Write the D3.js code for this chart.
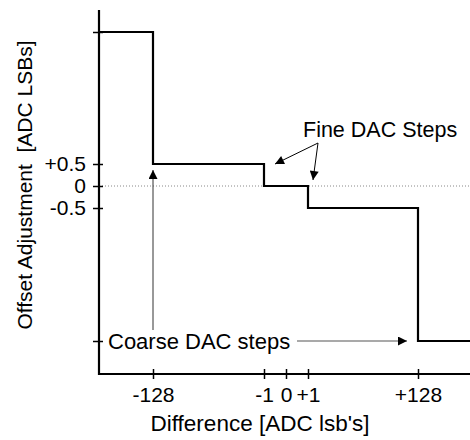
<!doctype html>
<html>
  <head>
    <meta charset="utf-8">
    <title>Offset Adjustment</title>
    <style>
      body { margin: 0; background: #fff; }
      text { font-family: "Liberation Sans", Arial, sans-serif; fill: #000; }
    </style>
    <script src="https://cdnjs.cloudflare.com/ajax/libs/d3/7.8.5/d3.min.js"></script>
  </head>
  <body>
    <div id="chart"></div>
    <script>
      // step breakpoints (ADC lsb difference) and the offset level that follows each one
      const stepX = [-192, -128, -1, 1, 128, 192];
      const stepY = [64, 0.5, 0, -0.5, -64, -64];

      const xTicks = [-128, -1, 0, 1, 128];
      const xTickLabels = ["-128", "-1", "0", "+1", "+128"];
      const yTicks = [-64, -0.5, 0, 0.5, 64];
      const yTickLabels = ["", "-0.5", "0", "+0.5", ""];

      const W = 470, H = 440;

      // the axes are not to scale, so use piecewise scales
      const x = d3.scaleLinear()
        .domain([-192, -128, -1, 0, 1, 128, 192])
        .range([99, 153, 264, 286, 308, 418, 470]);
      const y = d3.scaleLinear()
        .domain([-76, -64, -0.5, 0, 0.5, 64, 74])
        .range([374, 341, 208, 186, 164, 32, 10]);

      const svg = d3.select("#chart").append("svg")
        .attr("width", W).attr("height", H);

      const defs = svg.append("defs");
      defs.append("marker")
        .attr("id", "head")
        .attr("viewBox", "0 0 10 10")
        .attr("refX", 10).attr("refY", 5)
        .attr("markerWidth", 10).attr("markerHeight", 9)
        .attr("markerUnits", "userSpaceOnUse")
        .attr("orient", "auto")
        .append("path").attr("d", "M0,0L10,5L0,10Z").attr("fill", "#000");

      // zero reference
      svg.append("line")
        .attr("x1", x(-192)).attr("x2", x(192))
        .attr("y1", y(0)).attr("y2", y(0))
        .attr("stroke", "#888").attr("stroke-width", 1)
        .attr("stroke-dasharray", "1,2");

      // axes
      const xAxis = svg.append("g")
        .attr("transform", `translate(0,${y(-76)})`)
        .call(d3.axisBottom(x).tickValues(xTicks)
          .tickFormat((d, i) => xTickLabels[i]).tickSize(5).tickPadding(8));
      const yAxis = svg.append("g")
        .attr("transform", `translate(${x(-192)},0)`)
        .call(d3.axisLeft(y).tickValues(yTicks)
          .tickFormat((d, i) => yTickLabels[i]).tickSize(6).tickPadding(7));

      [xAxis, yAxis].forEach(g => {
        g.select(".domain").remove();
        g.selectAll("text").style("font-size", "21px")
          .style("font-family", "Liberation Sans, Arial, sans-serif").attr("fill", "#000");
        g.selectAll(".tick line").attr("stroke", "#000").attr("stroke-width", 1.5);
      });
      xAxis.selectAll(".tick line").attr("y1", -5);
      yAxis.selectAll(".tick line").attr("x1", 4);

      svg.append("path")
        .attr("d", `M${x(-192)},${y(74)}V${y(-76)}H${x(192)}`)
        .attr("fill", "none").attr("stroke", "#000").attr("stroke-width", 2.2);

      // transfer curve
      const line = d3.line()
        .x((d, i) => x(stepX[i]))
        .y(d => y(d))
        .curve(d3.curveStepAfter);
      svg.append("path")
        .datum(stepY)
        .attr("d", line)
        .attr("fill", "none").attr("stroke", "#000").attr("stroke-width", 2.2);

      // annotations
      svg.append("text").attr("x", 108).attr("y", y(-64)).attr("dy", "0.36em")
        .style("font-size", "22px").text("Coarse DAC steps");
      svg.append("line")
        .attr("x1", x(-128)).attr("x2", x(-128))
        .attr("y1", 330).attr("y2", y(0.5) + 6)
        .attr("stroke", "#333").attr("stroke-width", 1)
        .attr("marker-end", "url(#head)");
      svg.append("line")
        .attr("x1", 297).attr("x2", x(128) - 11)
        .attr("y1", y(-64)).attr("y2", y(-64))
        .attr("stroke", "#555").attr("stroke-width", 1.2)
        .attr("marker-end", "url(#head)");

      svg.append("text").attr("x", 303).attr("y", 137)
        .style("font-size", "21.5px").text("Fine DAC Steps");
      [[275, 164], [313, 180]].forEach(p => {
        svg.append("line")
          .attr("x1", 318).attr("y1", 143)
          .attr("x2", p[0]).attr("y2", p[1])
          .attr("stroke", "#000").attr("stroke-width", 1)
          .attr("marker-end", "url(#head)");
      });

      // axis titles
      svg.append("text")
        .attr("text-anchor", "middle")
        .attr("x", 260).attr("y", 431)
        .style("font-size", "22.5px").text("Difference [ADC lsb's]");
      svg.append("text")
        .attr("text-anchor", "middle")
        .attr("transform", `translate(32,185) rotate(-90)`)
        .style("font-size", "21px")
        .attr("xml:space", "preserve")
        .style("white-space", "pre")
        .text("Offset Adjustment  [ADC LSBs]");
    </script>
  </body>
</html>
